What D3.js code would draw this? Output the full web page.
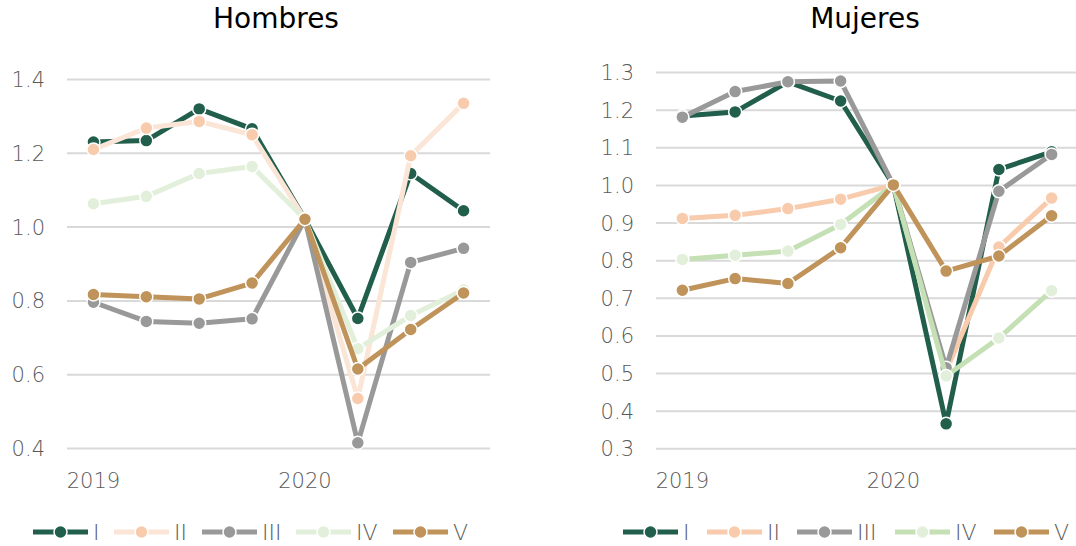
<!DOCTYPE html>
<html>
<head>
<meta charset="utf-8">
<script src="https://cdn.jsdelivr.net/npm/d3@7"></script>
<style>
  html, body { margin: 0; padding: 0; background: #fff; }
  svg { display: block; font-family: "DejaVu Sans", sans-serif; }
</style>
</head>
<body>
<svg id="chart" width="1076" height="546"></svg>
<script>
// Quarters from 2019-T1 to 2020-T4
const quarters = ["2019-T1", "2019-T2", "2019-T3", "2019-T4", "2020-T1", "2020-T2", "2020-T3", "2020-T4"];
const quarterLabels = ["2019", "", "", "", "2020", "", "", ""];
const seriesNames = ["I", "II", "III", "IV", "V"];

// Hombres
const menI   = [1.229, 1.233, 1.319, 1.265, 1.020, 0.751, 1.144, 1.043];
const menII  = [1.209, 1.267, 1.285, 1.249, 1.020, 0.534, 1.192, 1.334];
const menIII = [0.795, 0.743, 0.738, 0.750, 1.020, 0.414, 0.903, 0.941];
const menIV  = [1.062, 1.082, 1.144, 1.163, 1.020, 0.669, 0.759, 0.828];
const menV   = [0.816, 0.810, 0.804, 0.847, 1.020, 0.614, 0.721, 0.820];
const menTicks = [0.4, 0.6, 0.8, 1.0, 1.2, 1.4];

// Mujeres
const womenI   = [1.183, 1.194, 1.274, 1.223, 1.000, 0.365, 1.041, 1.088];
const womenII  = [0.911, 0.919, 0.937, 0.962, 1.000, 0.505, 0.835, 0.965];
const womenIII = [1.180, 1.248, 1.274, 1.276, 1.000, 0.514, 0.983, 1.081];
const womenIV  = [0.802, 0.813, 0.824, 0.895, 1.000, 0.492, 0.593, 0.719];
const womenV   = [0.720, 0.751, 0.738, 0.833, 1.000, 0.771, 0.811, 0.918];
const womenTicks = [0.3, 0.4, 0.5, 0.6, 0.7, 0.8, 0.9, 1.0, 1.1, 1.2, 1.3];

const svg = d3.select("#chart");
const textColor = "#595959";
const lightWeight = 300;

function drawPanel(cfg) {
  const g = svg.append("g");
  const x = d3.scaleBand().domain(d3.range(quarters.length)).range([cfg.left, cfg.right]);
  const cx = i => x(i) + x.bandwidth() / 2;
  const y = d3.scaleLinear().domain(cfg.domain).range([cfg.bottom, cfg.top]);

  // Title
  g.append("text")
    .attr("x", cfg.titleX).attr("y", 28)
    .attr("text-anchor", "middle")
    .attr("font-size", 28).attr("fill", "#000")
    .text(cfg.title);

  // Gridlines + value labels
  const yAxis = g.append("g")
    .attr("transform", `translate(${cfg.left},0)`)
    .call(d3.axisLeft(y).tickValues(cfg.ticks).tickFormat(d3.format(".1f"))
      .tickSize(-(cfg.right - cfg.left)).tickPadding(22));
  yAxis.select(".domain").remove();
  yAxis.selectAll(".tick line").attr("stroke", "#d9d9d9").attr("stroke-width", 2);
  yAxis.selectAll(".tick text").attr("fill", textColor).attr("font-size", 21)
    .attr("font-family", "'DejaVu Sans', sans-serif").attr("font-weight", lightWeight)
    .attr("dy", "0.36em");

  // Year labels
  g.selectAll(".xl").data(quarterLabels.map((l, i) => ({ l, i })).filter(d => d.l))
    .join("text")
    .attr("x", d => cx(d.i)).attr("y", 488)
    .attr("text-anchor", "middle").attr("font-size", 21).attr("font-weight", lightWeight)
    .attr("fill", textColor)
    .text(d => d.l);

  const line = d3.line().x((d, i) => cx(i)).y(d => y(d));

  cfg.series.forEach((s, k) => {
    const sg = g.append("g");
    sg.append("path").datum(s.values)
      .attr("d", line).attr("fill", "none")
      .attr("stroke", s.line).attr("stroke-width", 5)
      .attr("stroke-linejoin", "round");
    sg.selectAll("circle").data(s.values).join("circle")
      .attr("cx", (d, i) => cx(i)).attr("cy", d => y(d)).attr("r", 6.5)
      .attr("fill", s.marker).attr("stroke", "#fff").attr("stroke-width", 1.5);
  });

  // Legend
  const lg = g.append("g");
  cfg.series.forEach((s, k) => {
    const x0 = cfg.legendX[k];
    const item = lg.append("g").attr("transform", `translate(${x0},532)`);
    item.append("line").attr("x1", 0).attr("x2", 55).attr("y1", 0).attr("y2", 0)
      .attr("stroke", s.line).attr("stroke-width", 5);
    item.append("circle").attr("cx", 27.5).attr("cy", 0).attr("r", 6.5)
      .attr("fill", s.marker).attr("stroke", "#fff").attr("stroke-width", 1.5);
    item.append("text").attr("x", 60).attr("y", 8)
      .attr("font-size", 22).attr("font-weight", lightWeight).attr("fill", textColor)
      .text(seriesNames[k]);
  });
}

drawPanel({
  title: "Hombres", titleX: 276,
  left: 67, right: 490, top: 79, bottom: 448,
  domain: [0.4, 1.4], ticks: menTicks,
  legendX: [33, 114, 202, 296, 393],
  series: [
    { values: menI,   line: "#215e4b", marker: "#215e4b" },
    { values: menII,  line: "#fbe5d6", marker: "#f8cbad" },
    { values: menIII, line: "#999999", marker: "#999999" },
    { values: menIV,  line: "#e2efda", marker: "#e2efda" },
    { values: menV,   line: "#bf9359", marker: "#bf9359" }
  ]
});

drawPanel({
  title: "Mujeres", titleX: 865,
  left: 656, right: 1078, top: 72, bottom: 448.3,
  domain: [0.3, 1.3], ticks: womenTicks,
  legendX: [623, 707, 797, 895, 994],
  series: [
    { values: womenI,   line: "#215e4b", marker: "#215e4b" },
    { values: womenII,  line: "#f8cbad", marker: "#f8cbad" },
    { values: womenIII, line: "#999999", marker: "#999999" },
    { values: womenIV,  line: "#c5e0b4", marker: "#e2efda" },
    { values: womenV,   line: "#bf9359", marker: "#bf9359" }
  ]
});
</script>
</body>
</html>
